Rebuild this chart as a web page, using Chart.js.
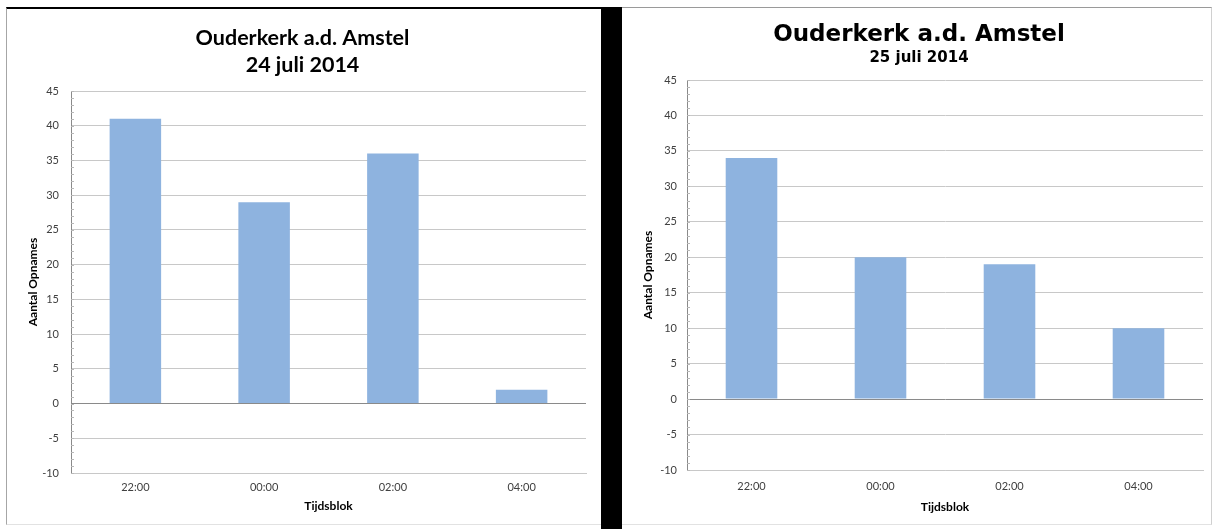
<!DOCTYPE html>
<html>
<head>
<meta charset="utf-8">
<script src="https://cdn.jsdelivr.net/npm/chart.js@4/dist/chart.umd.min.js"></script>
<style>
  html, body { margin: 0; padding: 0; background: #ffffff; }
  #page { position: relative; width: 1212px; height: 529px; background: #ffffff; overflow: hidden; }
  .panel { position: absolute; background: #ffffff; box-sizing: border-box; }
  #panelLeft { left: 6px; top: 7px; width: 595px; height: 518px; border-top: 2px solid #000; border-left: 1px solid #a6a6a6; border-bottom: 1px solid #e2e2e2; }
  #panelRight { left: 622px; top: 7px; width: 590px; height: 518px; border-top: 1px solid #9a9a9a; border-right: 1px solid #d0d0d0; border-bottom: 1px solid #e2e2e2; }
  #divider { position: absolute; left: 601px; top: 7px; width: 21px; height: 522px; background: #000; }
  canvas { position: absolute; }
  #chartLeft { left: 7px; top: 9px; }
  #chartRight { left: 623px; top: 9px; }
</style>
</head>
<body>
<div id="page">
  <div class="panel" id="panelLeft"></div>
  <div class="panel" id="panelRight"></div>
  <div id="divider"></div>
  <canvas id="chartLeft" width="593" height="514"></canvas>
  <canvas id="chartRight" width="587" height="514"></canvas>
</div>
<script>
// Opnames per tijdsblok, Ouderkerk a.d. Amstel
const categories = ['22:00', '00:00', '02:00', '04:00'];
const opnames24Juli = [41, 29, 36, 2];
const opnames25Juli = [34, 20, 19, 10];
const yMin = -10;
const yMax = 45;
const yStep = 5;

const barColor = '#8eb3df';
const gridColor = '#c8c8c8';
const axisColor = '#8a8a8a';
const tickColor = '#404040';

// small minor tick marks along the value axis, one per unit
const minorTicks = {
  id: 'minorTicks',
  afterDraw(chart) {
    const y = chart.scales.y;
    const ctx = chart.ctx;
    ctx.save();
    ctx.strokeStyle = '#b8b8b8';
    ctx.lineWidth = 1;
    for (let v = yMin; v <= yMax; v++) {
      const py = Math.round(y.getPixelForValue(v)) + 0.5;
      ctx.beginPath();
      ctx.moveTo(y.right, py);
      ctx.lineTo(y.right + 3, py);
      ctx.stroke();
    }
    ctx.restore();
  }
};

function makeOptions(cfg) {
  return {
    responsive: false,
    animation: false,
    devicePixelRatio: 1,
    layout: { padding: cfg.padding },
    plugins: {
      legend: { display: false },
      tooltip: { enabled: false },
      title: cfg.title,
      subtitle: cfg.subtitle || { display: false }
    },
    scales: {
      x: {
        offset: true,
        grid: { display: false, drawTicks: false },
        border: { display: true, color: gridColor },
        ticks: { color: tickColor, padding: cfg.xTickPad, font: { family: 'Lato', size: 11 } },
        title: {
          display: true, text: 'Tijdsblok', color: '#000',
          font: { family: 'Lato', size: 12, weight: 'bold' },
          padding: { top: 0, bottom: cfg.xTitlePad }
        },
        afterFit(scale) { scale.height = cfg.xHeight; }
      },
      y: {
        min: yMin, max: yMax,
        ticks: { stepSize: yStep, color: tickColor, padding: cfg.yTickPad, font: { family: 'Lato', size: 11 } },
        grid: {
          drawTicks: false,
          color: (c) => (c.tick && c.tick.value === 0 ? axisColor : gridColor)
        },
        border: { display: true, color: axisColor },
        title: {
          display: true, text: 'Aantal Opnames', color: '#000',
          font: { family: 'Lato', size: 12, weight: 'bold' },
          padding: { top: cfg.yTitlePad, bottom: 0 }
        },
        afterFit(scale) { scale.width = cfg.yWidth; }
      }
    }
  };
}

new Chart(document.getElementById('chartLeft'), {
  type: 'bar',
  data: {
    labels: categories,
    datasets: [{ data: opnames24Juli, backgroundColor: barColor, barPercentage: 0.4, categoryPercentage: 1 }]
  },
  options: makeOptions({
    padding: { left: 12, right: 14, top: 0, bottom: 0 },
    yWidth: 52, yTickPad: 12, yTitlePad: 7,
    xHeight: 50, xTickPad: 8, xTitlePad: 10,
    title: {
      display: true,
      text: ['Ouderkerk a.d. Amstel', '24 juli 2014'],
      color: '#000',
      font: { family: 'Lato', size: 21.5, weight: 'bold', lineHeight: 1.256 },
      padding: { top: 15.5, bottom: 12.5 }
    }
  }),
  plugins: [minorTicks]
});

new Chart(document.getElementById('chartRight'), {
  type: 'bar',
  data: {
    labels: categories,
    datasets: [{ data: opnames25Juli, backgroundColor: barColor, barPercentage: 0.4, categoryPercentage: 1 }]
  },
  options: makeOptions({
    padding: { left: 12, right: 7, top: 0, bottom: 0 },
    yWidth: 52, yTickPad: 10, yTitlePad: 6,
    xHeight: 53, xTickPad: 10, xTitlePad: 9,
    title: {
      display: true,
      text: 'Ouderkerk a.d. Amstel',
      color: '#000',
      font: { family: 'DejaVu Sans', size: 23, weight: 'bold', lineHeight: 1.2 },
      padding: { top: 12, bottom: 0 }
    },
    subtitle: {
      display: true,
      text: '25 juli 2014',
      color: '#000',
      font: { family: 'DejaVu Sans', size: 15, weight: 'bold', lineHeight: 1.2 },
      padding: { top: 1, bottom: 12.4 }
    }
  }),
  plugins: [minorTicks]
});
</script>
</body>
</html>
